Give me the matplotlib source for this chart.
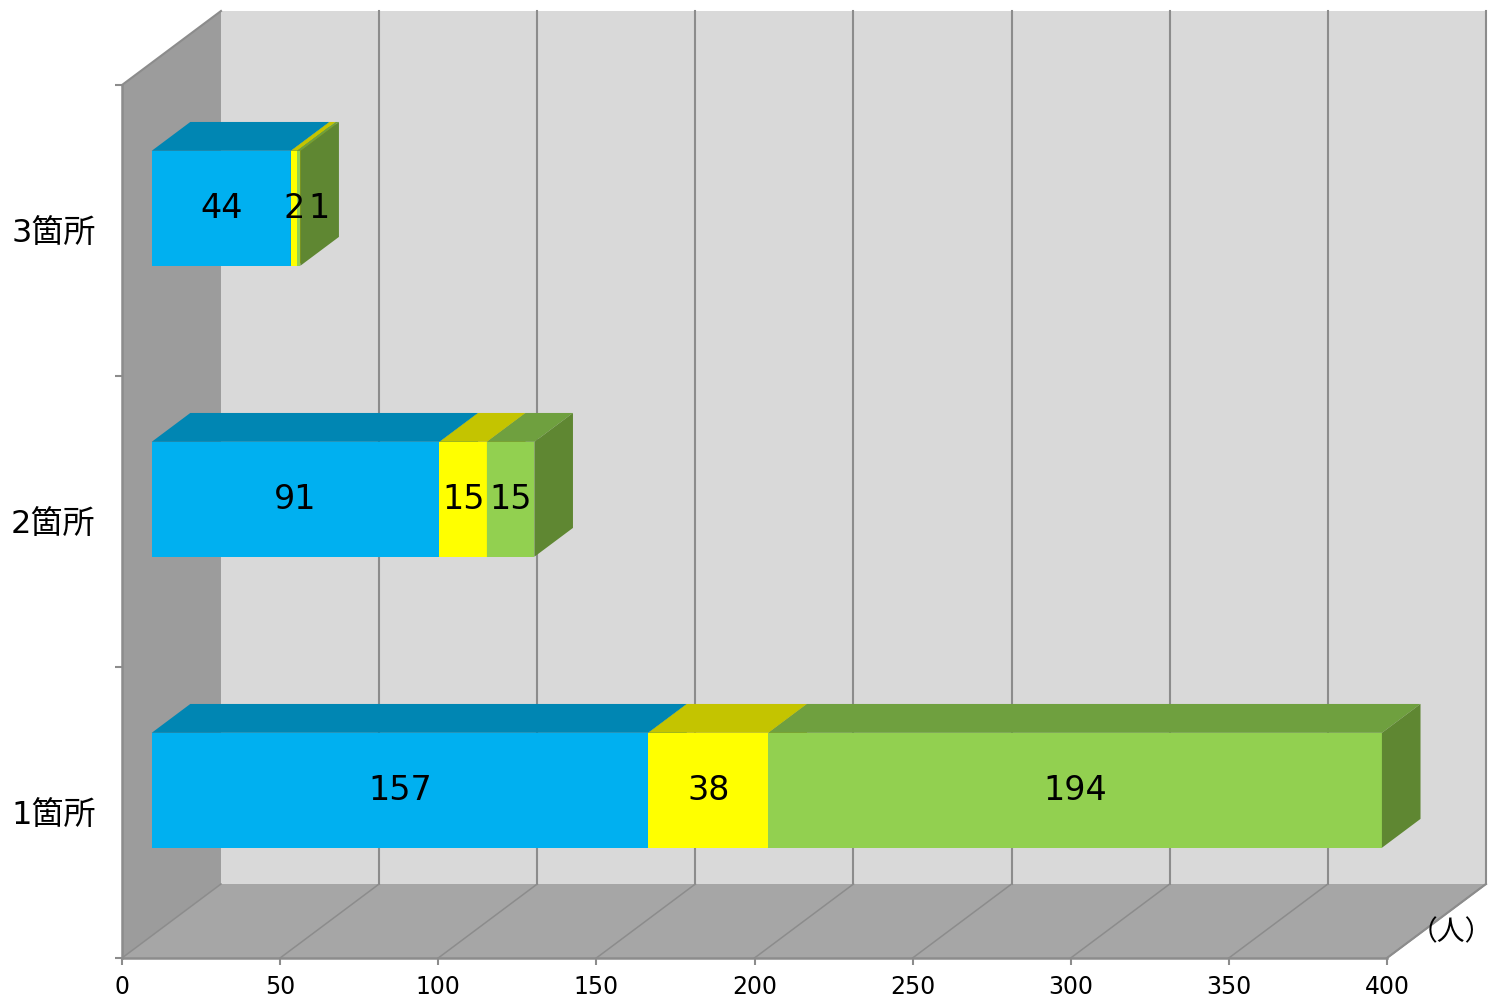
import matplotlib
matplotlib.use("Agg")
import matplotlib.pyplot as plt
from matplotlib.patches import Polygon

plt.rcParams['font.family'] = ['DejaVu Sans', 'Noto Sans CJK JP']

# datos
categorias = ['1箇所', '2箇所', '3箇所']
serie_a = [157, 91, 44]
serie_b = [38, 15, 2]
serie_c = [194, 15, 1]
x_ticks = [0, 50, 100, 150, 200, 250, 300, 350, 400]
unidad = '（人）'

# colores: frente, arriba, lado
colores = [
    ('#00B0F0', '#0086B3', '#0078A0'),
    ('#FFFF00', '#C4C400', '#B0B000'),
    ('#92D050', '#6FA03F', '#5F8732'),
]
# pequeños desplazamientos de etiquetas (px) para que no se encimen
nudge = {(2, 2): 20}

DX = 31.3      # profundidad en x (unidades de datos)
DY = 0.2543    # profundidad en y
d0, d1 = 0.30, 0.69
h = 0.395
gris = '#8C8C8C'

fig = plt.figure(figsize=(14.95, 10), dpi=100)
ax = fig.add_axes([122 / 1495, 42 / 1000, 1265 / 1495, 873 / 1000])
ax.set_xlim(0, 400)
ax.set_ylim(0, 3)
ax.set_facecolor('none')

xmax = x_ticks[-1]
ncat = len(categorias)

# paredes
ax.add_patch(Polygon([(DX, DY), (xmax + DX, DY), (xmax + DX, ncat + DY), (DX, ncat + DY)],
                     closed=True, fc='#D9D9D9', ec='none', clip_on=False, zorder=0))
ax.add_patch(Polygon([(0, 0), (DX, DY), (DX, ncat + DY), (0, ncat)],
                     closed=True, fc='#9C9C9C', ec='none', clip_on=False, zorder=0))
ax.add_patch(Polygon([(0, 0), (xmax, 0), (xmax + DX, DY), (DX, DY)],
                     closed=True, fc='#A6A6A6', ec='none', clip_on=False, zorder=0))

# lineas de la cuadricula
for v in x_ticks:
    ax.plot([v, v + DX], [0, DY], color=gris, lw=1.1, clip_on=False, zorder=1)
    if v > 0:
        ax.plot([v + DX, v + DX], [DY, ncat + DY], color=gris, lw=1.5, clip_on=False, zorder=1)
ax.plot([0, DX], [ncat, ncat + DY], color=gris, lw=1.5, clip_on=False, zorder=1)
ax.plot([xmax, xmax + DX], [0, DY], color=gris, lw=1.5, clip_on=False, zorder=1)

# barras 3D apiladas
series = [serie_a, serie_b, serie_c]
for i in range(ncat):
    c = i + 0.5
    bot = c - h / 2
    top = c + h / 2
    left = 0
    for k, s in enumerate(series):
        val = s[i]
        x0, x1 = left, left + val
        fr, tp, sd = colores[k]
        ax.add_patch(Polygon([(x0 + d0 * DX, bot + d0 * DY), (x1 + d0 * DX, bot + d0 * DY),
                              (x1 + d0 * DX, top + d0 * DY), (x0 + d0 * DX, top + d0 * DY)],
                             closed=True, fc=fr, ec='none', clip_on=False, zorder=3))
        ax.add_patch(Polygon([(x0 + d0 * DX, top + d0 * DY), (x1 + d0 * DX, top + d0 * DY),
                              (x1 + d1 * DX, top + d1 * DY), (x0 + d1 * DX, top + d1 * DY)],
                             closed=True, fc=tp, ec='none', clip_on=False, zorder=3))
        ax.add_patch(Polygon([(x1 + d0 * DX, bot + d0 * DY), (x1 + d1 * DX, bot + d1 * DY),
                              (x1 + d1 * DX, top + d1 * DY), (x1 + d0 * DX, top + d0 * DY)],
                             closed=True, fc=sd, ec='none', clip_on=False, zorder=3))
        ax.annotate(str(val), ((x0 + x1) / 2 + d0 * DX, c + d0 * DY),
                    xytext=(nudge.get((i, k), 0) * 0.72, 0), textcoords='offset points',
                    ha='center', va='center', fontsize=24, color='black', zorder=5)
        left = x1

# ejes
for side in ['top', 'right']:
    ax.spines[side].set_visible(False)
for side in ['left', 'bottom']:
    ax.spines[side].set_color(gris)
    ax.spines[side].set_linewidth(1.8)
    ax.spines[side].set_zorder(2)

ax.set_xticks(x_ticks)
ax.set_xticklabels([str(v) for v in x_ticks])
ax.tick_params(axis='x', length=5, width=1.5, color=gris, pad=7, labelsize=17)
ax.set_yticks([0, 1, 2, 3])
ax.set_yticklabels([])
ax.tick_params(axis='y', which='major', length=5, width=1.5, color=gris)
ax.set_yticks([i + 0.5 for i in range(ncat)], minor=True)
ax.set_yticklabels(categorias, minor=True)
ax.tick_params(axis='y', which='minor', length=0, pad=19, labelsize=23)

ax.text(433.5, 0.089, unidad, ha='right', va='center', fontsize=20, clip_on=False)

fig.savefig('out.png', dpi=100)
